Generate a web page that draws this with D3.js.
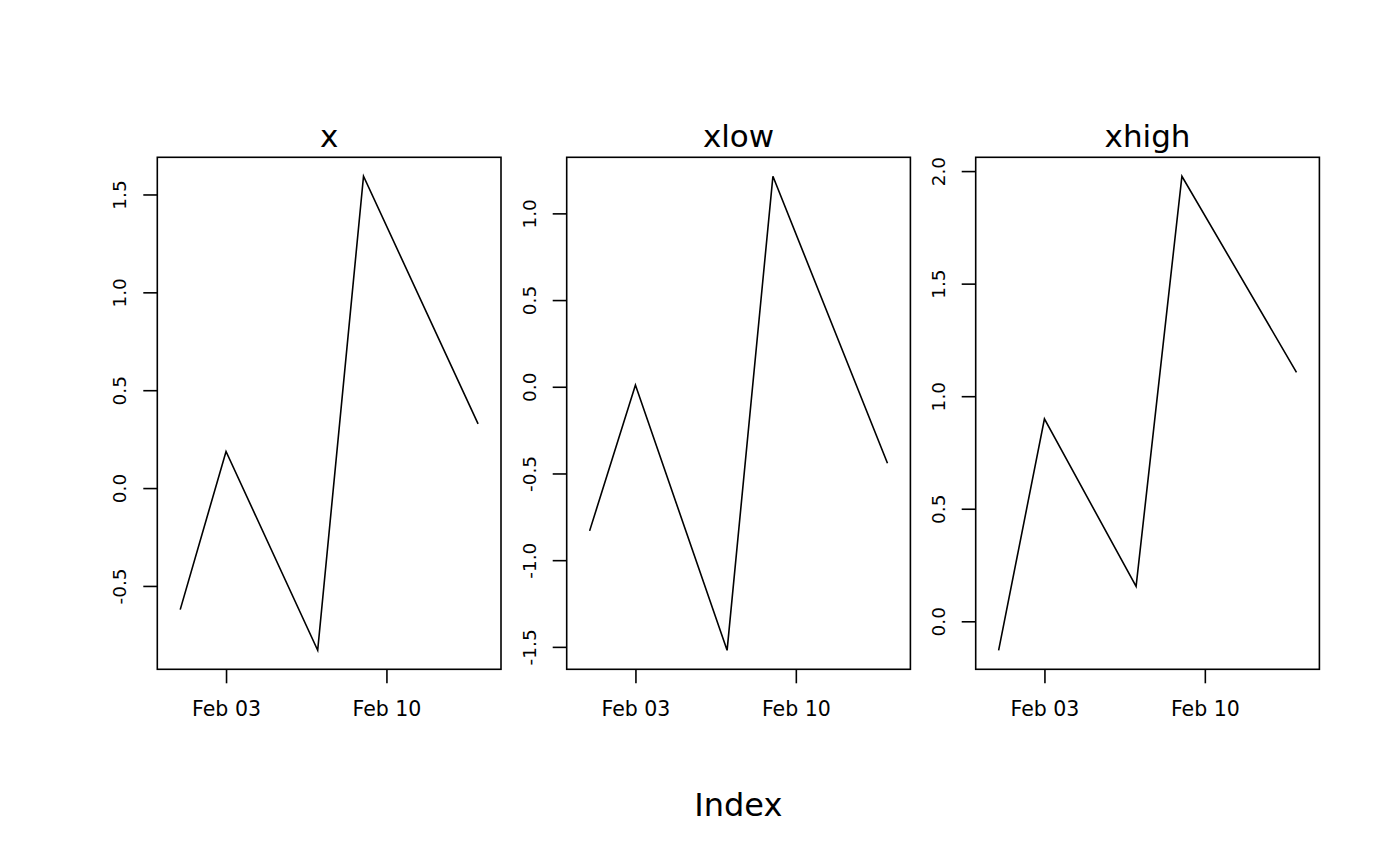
<!DOCTYPE html>
<html>
<head>
<meta charset="utf-8">
<script src="https://cdn.jsdelivr.net/npm/d3@7"></script>
<style>
  body { margin: 0; background: #fff; }
  svg { display: block; }
  text { font-family: "DejaVu Sans", sans-serif; fill: #000; }
</style>
</head>
<body>
<div id="chart"></div>
<script>
'use strict';

// data (one value per date)
var dates = ['2020-02-01', '2020-02-03', '2020-02-07', '2020-02-09', '2020-02-14'];
var seriesNames = ['x', 'xlow', 'xhigh'];
var xVals     = [-0.621, 0.187, -0.829, 1.593, 0.328];
var xlowVals  = [-0.831, 0.010, -1.520, 1.214, -0.441];
var xhighVals = [-0.129, 0.899, 0.155, 1.977, 1.106];
var xTickDates = ['2020-02-03', '2020-02-10'];
var xRange = ['2020-01-31', '2020-02-15'];
var xLabel = 'Index';

var width = 1400;
var height = 866;
var panelLefts = [157.3, 566.7, 975.7];
var panelWidth = 343.7;
var plotTop = 157.3;
var plotBottom = 669.3;
var tickLen = 14;
var lineW = 1.6;

var parse = d3.utcParse('%Y-%m-%d');
var fmtDate = d3.utcFormat('%b %d');

var svg = d3.select('#chart')
            .append('svg')
            .attr('width', width)
            .attr('height', height);

// R style range: data extent padded by 4% on each side
var padExtent = function(vals){
  var ext = d3.extent(vals);
  var pad = (ext[1] - ext[0]) * 0.04;
  return [ext[0] - pad, ext[1] + pad];
};

var allVals = [xVals, xlowVals, xhighVals];
var parsedDates = dates.map(parse);

seriesNames.forEach(function(name, i){
  var left = panelLefts[i];
  var vals = allVals[i];
  var pts = parsedDates.map(function(d, j){ return {date: d, value: vals[j]}; });

  var x = d3.scaleUtc()
            .domain(xRange.map(parse))
            .range([left, left + panelWidth]);
  var y = d3.scaleLinear()
            .domain(padExtent(vals))
            .range([plotBottom, plotTop]);

  var g = svg.append('g');

  // the series line
  g.append('path')
   .datum(pts)
   .attr('fill', 'none')
   .attr('stroke', '#000')
   .attr('stroke-width', lineW)
   .attr('stroke-linejoin', 'miter')
   .attr('d', d3.line()
                .x(function(d){ return x(d.date); })
                .y(function(d){ return y(d.value); }));

  // plot box
  g.append('rect')
   .attr('x', left)
   .attr('y', plotTop)
   .attr('width', panelWidth)
   .attr('height', plotBottom - plotTop)
   .attr('fill', 'none')
   .attr('stroke', '#000')
   .attr('stroke-width', lineW);

  // x axis
  var xAxis = d3.axisBottom(x)
                .tickValues(xTickDates.map(parse))
                .tickFormat(fmtDate)
                .tickSize(tickLen)
                .tickPadding(18);
  var gx = g.append('g')
            .attr('transform', 'translate(0,' + plotBottom + ')')
            .call(xAxis);
  gx.select('.domain').remove();
  gx.selectAll('line').attr('stroke', '#000').attr('stroke-width', lineW);
  gx.selectAll('text')
    .attr('font-size', 20.5)
    .attr('font-family', '"DejaVu Sans", sans-serif')
    .attr('fill', '#000');

  // y axis, labels turned to read upwards
  var yAxis = d3.axisLeft(y)
                .ticks(5)
                .tickFormat(function(v){ return v.toFixed(1); })
                .tickSize(tickLen);
  var gy = g.append('g')
            .attr('transform', 'translate(' + left + ',0)')
            .call(yAxis);
  gy.select('.domain').remove();
  gy.selectAll('line').attr('stroke', '#000').attr('stroke-width', lineW);
  gy.selectAll('text')
    .attr('font-size', 18.5)
    .attr('font-family', '"DejaVu Sans", sans-serif')
    .attr('fill', '#000')
    .attr('x', null)
    .attr('dy', null)
    .attr('text-anchor', 'middle')
    .attr('transform', 'translate(-31,0) rotate(-90)');

  // panel title
  g.append('text')
   .attr('x', left + panelWidth / 2)
   .attr('y', 147.3)
   .attr('text-anchor', 'middle')
   .attr('font-size', 31)
   .text(name);
});

// shared x label
svg.append('text')
   .attr('x', (panelLefts[0] + panelLefts[2] + panelWidth) / 2)
   .attr('y', 815.7)
   .attr('text-anchor', 'middle')
   .attr('font-size', 32)
   .text(xLabel);
</script>
</body>
</html>
